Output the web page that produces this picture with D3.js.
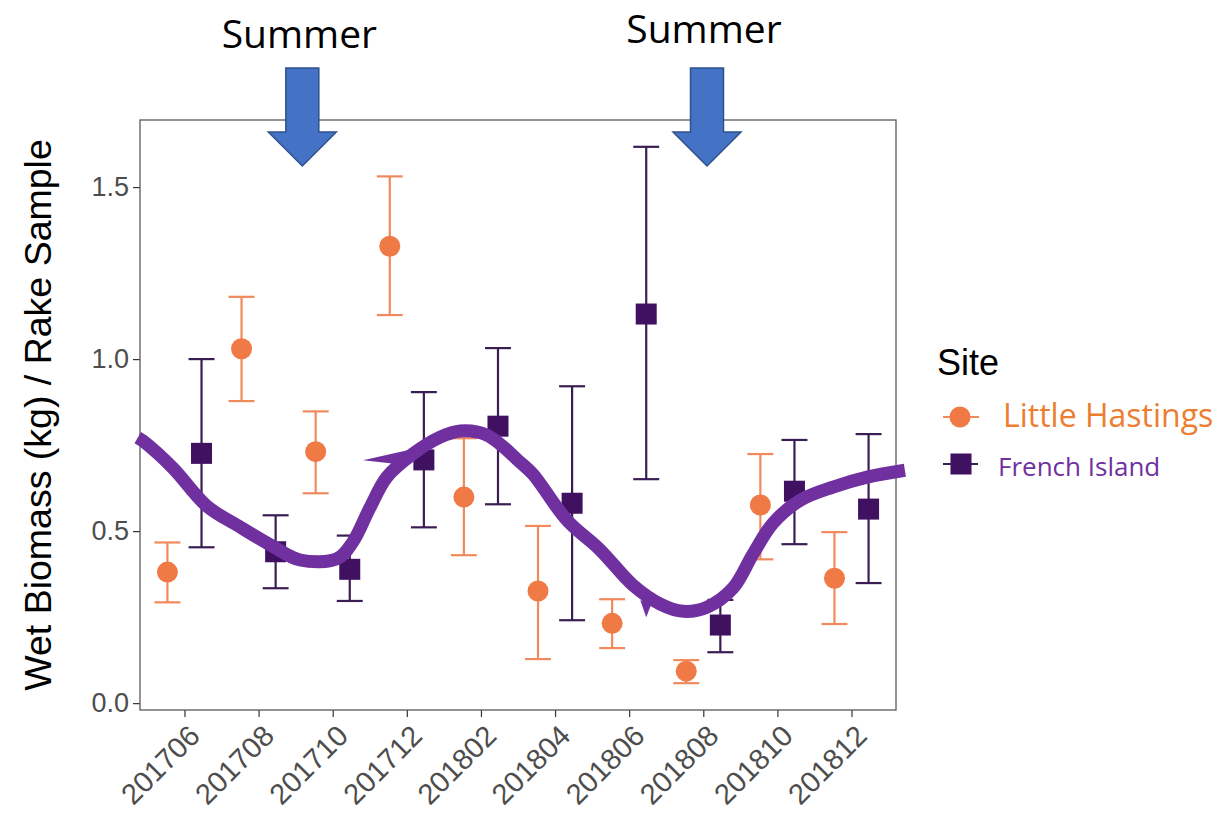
<!DOCTYPE html>
<html>
<head>
<meta charset="utf-8">
<script src="https://cdn.jsdelivr.net/npm/d3@7"></script>
<style>
  html, body { margin: 0; padding: 0; background: #ffffff; }
  svg { display: block; }
</style>
</head>
<body>
<svg id="chart" width="1221" height="816"></svg>
<script>
// Sampling months (two-monthly)
const categories = ["201706", "201708", "201710", "201712", "201802", "201804", "201806", "201808", "201810", "201812"];

// Little Hastings: mean wet biomass and error-bar limits (kg per rake sample)
const lhMean = [0.381, 1.030, 0.731, 1.328, 0.599, 0.326, 0.232, 0.093, 0.576, 0.363];
const lhLow  = [0.293, 0.878, 0.610, 1.128, 0.430, 0.128, 0.160, 0.058, 0.418, 0.230];
const lhHigh = [0.467, 1.181, 0.848, 1.531, 0.770, 0.515, 0.302, 0.125, 0.724, 0.497];

// French Island: mean wet biomass and error-bar limits (kg per rake sample)
const fiMean = [0.726, 0.440, 0.389, 0.707, 0.805, 0.581, 1.131, 0.227, 0.616, 0.564];
const fiLow  = [0.453, 0.334, 0.297, 0.511, 0.578, 0.241, 0.651, 0.148, 0.462, 0.349];
const fiHigh = [1.000, 0.546, 0.487, 0.904, 1.032, 0.921, 1.617, 0.300, 0.765, 0.782];

const yTicks = [0.0, 0.5, 1.0, 1.5];
const siteNames = ["Little Hastings", "French Island"];

// Hand-drawn seasonal trend: position in category steps from the first month, biomass value
const trendU = [-0.63, -0.56, -0.155, 0.30, 0.75, 1.19, 1.56, 2.06, 2.27, 2.50, 2.73, 3.08, 3.45, 3.72, 4.08, 4.53, 4.70, 5.16, 5.61, 6.05, 6.42, 6.73, 7.05, 7.40, 7.67, 7.94, 8.31, 8.75, 9.21, 9.72];
const trendV = [0.772, 0.762, 0.683, 0.573, 0.512, 0.456, 0.416, 0.420, 0.468, 0.567, 0.657, 0.724, 0.773, 0.791, 0.779, 0.700, 0.666, 0.532, 0.445, 0.343, 0.288, 0.267, 0.279, 0.334, 0.433, 0.523, 0.590, 0.628, 0.657, 0.677];
// Pen flicks along the stroke
const flickU = [[2.41, 3.25, 2.98], [6.15, 6.31, 6.23]];
const flickV = [[0.706, 0.747, 0.692], [0.299, 0.294, 0.250]];

// Summer markers (category steps from the first month)
const summerU = [1.59, 7.05];
const summerLabel = "Summer";

// ---- layout ----
const svg = d3.select("#chart");
const panel = { left: 140, right: 896, top: 120, bottom: 710 };
const colors = {
  lhPoint: "#f07a45", lhBar: "#f08a5c",
  fiPoint: "#3f1160", fiBar: "#3a1d52",
  trend: "#7030a0", arrowFill: "#4472c4", arrowStroke: "#2f528f",
  lhText: "#ed7d31", fiText: "#7030a0"
};
const axisFont = "'Liberation Sans', Arial, Helvetica, sans-serif";
const noteFont = "'Open Sans', 'Noto Sans', sans-serif";

svg.append("rect").attr("width", 1221).attr("height", 816).attr("fill", "#ffffff");

// Scales
const x = d3.scalePoint().domain(categories).range([panel.left, panel.right]).padding(0.6);
const step = x.step();
const xu = u => x(categories[0]) + u * step;

const allLow = d3.min(lhLow.concat(fiLow));
const allHigh = d3.max(lhHigh.concat(fiHigh));
const pad = 0.05 * (allHigh - allLow);
const y = d3.scaleLinear().domain([allLow - pad, allHigh + pad]).range([panel.bottom, panel.top]);

const dodge = 0.23 * step;
const capHalf = 0.175 * step;

// Panel background
svg.append("rect")
  .attr("x", panel.left).attr("y", panel.top)
  .attr("width", panel.right - panel.left).attr("height", panel.bottom - panel.top)
  .attr("fill", "#ffffff");

// Y axis
const yAxis = svg.append("g")
  .attr("transform", `translate(${panel.left},0)`)
  .call(d3.axisLeft(y).tickValues(yTicks).tickFormat(d3.format(".1f")).tickSize(7).tickPadding(4));
yAxis.select(".domain").remove();
yAxis.selectAll(".tick line").attr("stroke", "#333333").attr("stroke-width", 1.2);
yAxis.selectAll(".tick text")
  .attr("fill", "#4d4d4d").style("font-family", axisFont).style("font-size", "27px");

// X axis
const xAxis = svg.append("g")
  .attr("transform", `translate(0,${panel.bottom})`)
  .call(d3.axisBottom(x).tickSize(7).tickPadding(0));
xAxis.select(".domain").remove();
xAxis.selectAll(".tick line").attr("stroke", "#333333").attr("stroke-width", 1.2);
xAxis.selectAll(".tick text")
  .attr("fill", "#4d4d4d").style("font-family", axisFont).style("font-size", "29px")
  .attr("text-anchor", "end")
  .attr("dy", null)
  .attr("y", 0)
  .attr("transform", "translate(2,13) rotate(-45)")
  .attr("dominant-baseline", "hanging");

// Panel border
svg.append("rect")
  .attr("x", panel.left).attr("y", panel.top)
  .attr("width", panel.right - panel.left).attr("height", panel.bottom - panel.top)
  .attr("fill", "none").attr("stroke", "#5a5a5a").attr("stroke-width", 1.3);

// Axis title
svg.append("text")
  .attr("transform", `translate(51,415) rotate(-90)`)
  .attr("text-anchor", "middle")
  .style("font-family", axisFont).style("font-size", "37.5px").attr("fill", "#000000")
  .text("Wet Biomass (kg) / Rake Sample");

// Series records
const series = [
  { name: siteNames[0], mean: lhMean, low: lhLow, high: lhHigh, off: -dodge, point: colors.lhPoint, bar: colors.lhBar, shape: "circle" },
  { name: siteNames[1], mean: fiMean, low: fiLow, high: fiHigh, off: dodge, point: colors.fiPoint, bar: colors.fiBar, shape: "square" }
];

const marks = svg.append("g");
series.forEach(s => {
  const rows = categories.map((c, i) => ({ c, m: s.mean[i], lo: s.low[i], hi: s.high[i] }));
  const g = marks.append("g");
  // error bars
  const eb = g.selectAll("g.eb").data(rows).enter().append("g").attr("class", "eb")
    .attr("stroke", s.bar).attr("stroke-width", 2.2).attr("fill", "none");
  eb.append("line")
    .attr("x1", d => x(d.c) + s.off).attr("x2", d => x(d.c) + s.off)
    .attr("y1", d => y(d.lo)).attr("y2", d => y(d.hi));
  eb.append("line")
    .attr("x1", d => x(d.c) + s.off - capHalf).attr("x2", d => x(d.c) + s.off + capHalf)
    .attr("y1", d => y(d.hi)).attr("y2", d => y(d.hi));
  eb.append("line")
    .attr("x1", d => x(d.c) + s.off - capHalf).attr("x2", d => x(d.c) + s.off + capHalf)
    .attr("y1", d => y(d.lo)).attr("y2", d => y(d.lo));
  // points
  if (s.shape === "circle") {
    g.selectAll("circle").data(rows).enter().append("circle")
      .attr("cx", d => x(d.c) + s.off).attr("cy", d => y(d.m)).attr("r", 10.5)
      .attr("fill", s.point);
  } else {
    g.selectAll("rect.pt").data(rows).enter().append("rect").attr("class", "pt")
      .attr("x", d => x(d.c) + s.off - 10.5).attr("y", d => y(d.m) - 10.5)
      .attr("width", 21).attr("height", 21)
      .attr("fill", s.point);
  }
});

// Seasonal trend stroke
const trendPts = trendU.map((u, i) => [xu(u), y(trendV[i])]);
svg.append("path")
  .attr("d", d3.line().curve(d3.curveCatmullRom.alpha(0.5))(trendPts))
  .attr("fill", "none").attr("stroke", colors.trend)
  .attr("stroke-width", 13).attr("stroke-linejoin", "round").attr("stroke-linecap", "butt");
flickU.forEach((us, k) => {
  const pts = us.map((u, i) => [xu(u), y(flickV[k][i])]);
  svg.append("path")
    .attr("d", d3.line()(pts) + "Z")
    .attr("fill", colors.trend);
});

// Summer arrows and labels
const arrowTop = 68, arrowHeadBase = 132, arrowTip = 166, shaftHalf = 16.5, headHalf = 34;
summerU.forEach((u, k) => {
  const cx = xu(u);
  const pts = [
    [cx - shaftHalf, arrowTop], [cx + shaftHalf, arrowTop], [cx + shaftHalf, arrowHeadBase],
    [cx + headHalf, arrowHeadBase], [cx, arrowTip], [cx - headHalf, arrowHeadBase],
    [cx - shaftHalf, arrowHeadBase]
  ];
  svg.append("path")
    .attr("d", d3.line()(pts) + "Z")
    .attr("fill", colors.arrowFill).attr("stroke", colors.arrowStroke).attr("stroke-width", 1.5)
    .attr("stroke-linejoin", "miter");
  svg.append("text")
    .attr("x", cx - 3).attr("y", k === 0 ? 48 : 43)
    .attr("text-anchor", "middle")
    .style("font-family", noteFont).style("font-size", "39px").attr("fill", "#000000")
    .text(summerLabel);
});

// Legend
const legend = svg.append("g");
legend.append("text")
  .attr("x", 937).attr("y", 375)
  .style("font-family", axisFont).style("font-size", "36px").attr("fill", "#000000")
  .text("Site");
// Little Hastings key
legend.append("line").attr("x1", 943).attr("x2", 979).attr("y1", 417).attr("y2", 417)
  .attr("stroke", colors.lhBar).attr("stroke-width", 2.2);
legend.append("circle").attr("cx", 960).attr("cy", 417).attr("r", 10.5).attr("fill", colors.lhPoint);
legend.append("text")
  .attr("x", 1003).attr("y", 427)
  .style("font-family", noteFont).style("font-size", "32px").attr("fill", colors.lhText)
  .text(siteNames[0]);
// French Island key
legend.append("line").attr("x1", 943).attr("x2", 978).attr("y1", 464).attr("y2", 464)
  .attr("stroke", colors.fiBar).attr("stroke-width", 2.2);
legend.append("rect").attr("x", 950.5).attr("y", 453.5).attr("width", 21).attr("height", 21).attr("fill", colors.fiPoint);
legend.append("text")
  .attr("x", 998).attr("y", 476)
  .style("font-family", noteFont).style("font-size", "26px").attr("fill", colors.fiText)
  .text(siteNames[1]);
</script>
</body>
</html>
